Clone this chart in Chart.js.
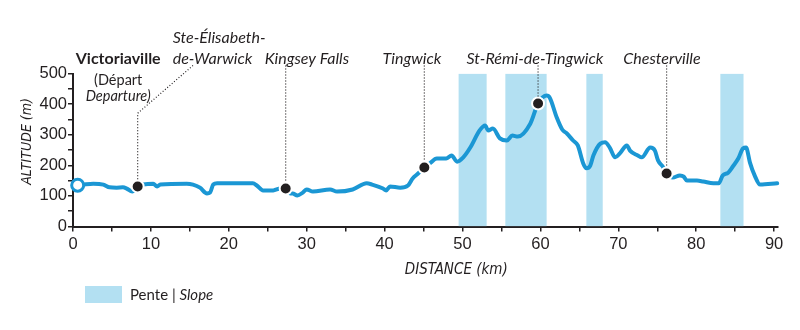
<!DOCTYPE html>
<html lang="fr">
<head>
  <meta charset="UTF-8">
  <title>Profil altimétrique</title>
  <script src="https://cdn.jsdelivr.net/npm/chart.js"></script>
  <style>
    body {
      margin: 0;
      background: #ffffff;
    }

    .profil {
      width: 800px;
      height: 330px;
    }
  </style>
</head>
<body>

<div class="profil">
  <canvas id="graficoProfil" width="800" height="330"></canvas>
</div>

<script>
  // profil du parcours : distance (km) et altitude (m)
  const distanceKm = [0.6, 1.3, 2.6, 3.9, 4.7, 5.6, 6.4, 6.9, 7.6, 8.3, 9.0, 10.3, 10.8, 11.2, 14.6, 15.4, 16.3, 17.2, 17.6, 18.0,
    18.5, 20.5, 23.1, 23.6, 24.4, 25.7, 26.6, 27.3, 27.9, 28.2, 28.8, 29.5, 30.0, 30.8, 33.0, 33.9, 35.9, 37.7, 38.4, 39.8,
    40.2, 40.7, 42.0, 43.0, 43.6, 44.3, 45.1, 45.8, 46.7, 47.9, 48.6, 49.3, 50.1, 51.0, 52.2, 52.9, 53.3, 53.9, 54.8, 55.7,
    56.4, 57.1, 58.7, 59.7, 60.8, 61.2, 62.1, 62.8, 63.4, 64.2, 64.8, 65.5, 65.9, 66.4, 66.8, 67.7, 68.3, 68.9, 69.6, 70.2,
    71.1, 71.5, 72.5, 73.0, 74.1, 74.7, 75.1, 75.7, 76.2, 77.0, 77.9, 78.4, 78.8, 80.1, 80.9, 82.2, 82.9, 83.4, 84.1, 84.7,
    85.4, 86.0, 86.4, 86.9, 87.5, 88.2, 90.4];
  const altitude = [135, 137, 140, 137, 128, 127, 128, 124, 114, 131, 137, 140, 131, 137, 140, 137, 127, 108, 111, 137,
    141, 141, 141, 134, 118, 118, 124, 124, 108, 108, 101, 111, 121, 114, 121, 114, 121, 141, 137, 124,
    118, 131, 127, 134, 157, 173, 193, 206, 222, 222, 232, 212, 226, 258, 314, 330, 314, 320, 288, 281,
    297, 294, 336, 402, 428, 421, 356, 317, 304, 281, 265, 206, 190, 199, 232, 271, 275, 258, 226, 239,
    265, 248, 232, 226, 258, 248, 216, 196, 173, 160, 167, 163, 150, 150, 147, 141, 141, 167, 176, 196,
    222, 255, 258, 209, 167, 137, 141];

  // villes traversées
  const villes = ['Ste-Élisabeth-de-Warwick', 'Kingsey Falls', 'Tingwick', 'St-Rémi-de-Tingwick', 'Chesterville'];
  const villesKm = [8.3, 27.3, 45.1, 59.7, 76.2];
  const villesAlt = [131, 124, 193, 402, 173];

  // départ
  const departKm = 0.6;
  const departAlt = 135;

  // zones de pente
  const penteDebut = [49.5, 55.5, 65.9, 83.1];
  const penteFin = [53.1, 60.8, 68.0, 86.1];
  const penteHaut = 500;

  const bleu = '#1b97d4';
  const bleuPale = '#b3e0f2';
  const noir = '#231f20';
  const police = "'Liberation Sans Narrow', 'DejaVu Sans Condensed', sans-serif";
  const policeTexte = "Lato, 'Open Sans', sans-serif";

  // bandes de pente en escalier, remplies jusqu'à 0
  const pentePoints = [{ x: 0, y: 0 }];
  penteDebut.forEach((debut, i) => {
    pentePoints.push({ x: debut, y: penteHaut });
    pentePoints.push({ x: penteFin[i], y: 0 });
  });

  const profilPoints = distanceKm.map((km, i) => ({ x: km, y: altitude[i] }));
  const villesPoints = villesKm.map((km, i) => ({ x: km, y: villesAlt[i] }));

  // étiquettes des villes : texte, position du texte et tracé du pointillé
  const etiquettes = [
    { lignes: ['Ste-Élisabeth-', 'de-Warwick'], km: 12.8, align: 'left', ville: 0, coude: 370, depart: 15.4 },
    { lignes: ['Kingsey Falls'], km: 24.6, align: 'left', ville: 1 },
    { lignes: ['Tingwick'], km: 43.5, align: 'center', ville: 2 },
    { lignes: ['St-Rémi-de-Tingwick'], km: 59.3, align: 'center', ville: 3 },
    { lignes: ['Chesterville'], km: 75.6, align: 'center', ville: 4 }
  ];

  const pluginEtiquettes = {
    id: 'etiquettes',
    afterDatasetsDraw(chart) {
      const { ctx, chartArea, scales: { x, y } } = chart;
      const baseLigne = chartArea.top - 10;
      const hautPointille = chartArea.top - 8;
      ctx.save();
      ctx.fillStyle = noir;
      ctx.textBaseline = 'alphabetic';

      // Victoriaville (départ)
      const vx = x.getPixelForValue(5.8);
      ctx.textAlign = 'center';
      ctx.font = 'bold 16px ' + policeTexte;
      ctx.fillText('Victoriaville', vx, baseLigne);
      ctx.font = '14.5px ' + policeTexte;
      ctx.fillText('(Départ', vx, baseLigne + 21);
      ctx.font = 'italic 14.5px ' + policeTexte;
      ctx.fillText('Departure)', vx, baseLigne + 37);

      ctx.font = 'italic 16px ' + policeTexte;
      etiquettes.forEach(e => {
        ctx.textAlign = e.align;
        const tx = x.getPixelForValue(e.km);
        e.lignes.forEach((l, i) => {
          ctx.fillText(l, tx, baseLigne - (e.lignes.length - 1 - i) * 21);
        });

        // pointillé jusqu'au point
        const px = x.getPixelForValue(villesKm[e.ville]);
        const py = y.getPixelForValue(villesAlt[e.ville]) - 7;
        ctx.beginPath();
        ctx.setLineDash([1, 2]);
        ctx.lineWidth = 1.2;
        ctx.strokeStyle = noir;
        if (e.coude) {
          const cy = y.getPixelForValue(e.coude);
          ctx.moveTo(x.getPixelForValue(e.depart), hautPointille);
          ctx.lineTo(px, cy);
          ctx.lineTo(px, py);
        } else {
          ctx.moveTo(px, hautPointille);
          ctx.lineTo(px, py);
        }
        ctx.stroke();
      });
      ctx.setLineDash([]);

      // titres des axes
      ctx.textAlign = 'center';
      ctx.textBaseline = 'middle';
      ctx.font = 'italic 15px ' + police;
      ctx.fillText('DISTANCE (km)', x.getPixelForValue(49.2), 270);
      ctx.save();
      ctx.translate(27, y.getPixelForValue(278));
      ctx.rotate(-Math.PI / 2);
      ctx.font = 'italic 14px ' + police;
      ctx.fillText('ALTITUDE (m)', 0, 0);
      ctx.restore();

      // légende
      ctx.fillStyle = bleuPale;
      ctx.fillRect(85, 286, 37, 17);
      ctx.fillStyle = noir;
      ctx.textAlign = 'left';
      ctx.textBaseline = 'middle';
      ctx.font = '15px ' + policeTexte;
      ctx.fillText('Pente | ', 130, 295);
      const w = ctx.measureText('Pente | ').width;
      ctx.font = 'italic 15px ' + policeTexte;
      ctx.fillText('Slope', 130 + w, 295);
      ctx.restore();
    }
  };

  const ctxProfil = document.getElementById('graficoProfil').getContext('2d');
  new Chart(ctxProfil, {
    type: 'line',
    data: {
      datasets: [
        {
          label: 'Départ',
          data: [{ x: departKm, y: departAlt }],
          showLine: false,
          pointRadius: 6,
          pointBackgroundColor: '#ffffff',
          pointBorderColor: bleu,
          pointBorderWidth: 3,
          clip: false,
          order: 0
        },
        {
          label: 'Villes',
          data: villesPoints,
          showLine: false,
          pointRadius: 6,
          pointBackgroundColor: noir,
          pointBorderColor: '#ffffff',
          pointBorderWidth: 2,
          clip: false,
          order: 1
        },
        {
          label: 'Altitude',
          data: profilPoints,
          borderColor: bleu,
          borderWidth: 4,
          pointRadius: 0,
          cubicInterpolationMode: 'monotone',
          borderCapStyle: 'round',
          borderJoinStyle: 'round',
          fill: false,
          clip: false,
          order: 2
        },
        {
          label: 'Pente | Slope',
          data: pentePoints,
          stepped: true,
          borderWidth: 0,
          pointRadius: 0,
          backgroundColor: bleuPale,
          fill: 'origin',
          order: 3
        }
      ]
    },
    options: {
      responsive: false,
      animation: false,
      layout: {
        padding: { top: 73.5, right: 22, bottom: 43.5, left: 0 }
      },
      plugins: {
        legend: { display: false },
        tooltip: { enabled: false }
      },
      scales: {
        x: {
          type: 'linear',
          min: 0,
          max: 90.5,
          afterFit(scale) { scale.height = 60; },
          border: { color: noir, width: 2 },
          grid: { drawOnChartArea: false, drawTicks: true, tickLength: 5, color: noir, lineWidth: 1.5 },
          ticks: {
            stepSize: 5,
            includeBounds: false,
            autoSkip: false,
            maxRotation: 0,
            padding: 3,
            color: noir,
            font: { family: "'Liberation Sans', Arial, sans-serif", size: 16.5 },
            callback: v => (v % 10 === 0 ? v : '')
          }
        },
        y: {
          min: 0,
          max: 500,
          afterFit(scale) { scale.width = 73; },
          border: { color: noir, width: 2 },
          grid: { drawOnChartArea: false, drawTicks: true, tickLength: 5, color: noir, lineWidth: 1.5 },
          ticks: {
            stepSize: 50,
            autoSkip: false,
            padding: 1,
            color: noir,
            font: { family: "'Liberation Sans', Arial, sans-serif", size: 16.5 },
            callback: v => (v % 100 === 0 ? v : '')
          }
        }
      }
    },
    plugins: [pluginEtiquettes]
  });
</script>

</body>
</html>
